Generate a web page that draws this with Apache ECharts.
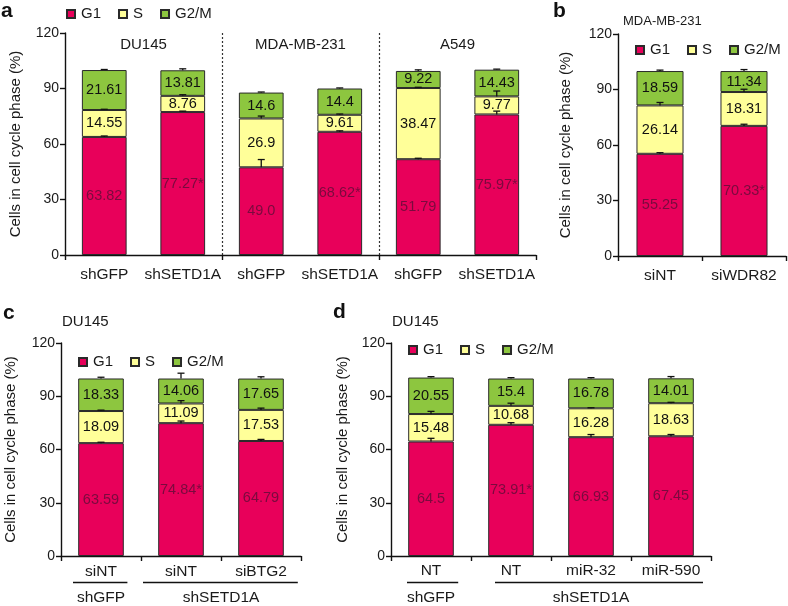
<!DOCTYPE html>
<html><head><meta charset="utf-8">
<script src="https://cdn.jsdelivr.net/npm/echarts@6/dist/echarts.min.js"></script>
<style>html,body{margin:0;padding:0;background:#fff}#c{width:788px;height:606px}</style>
</head><body><div id="c"></div>
<script>
const phases = ['G1', 'S', 'G2/M'];
const colors = ['#E8005A', '#FFFF99', '#8DC63F'];
const yName = 'Cells in cell cycle phase (%)';

// Panel a
const aCats = ['shGFP', 'shSETD1A', 'shGFP', 'shSETD1A', 'shGFP', 'shSETD1A'];
const aGroups = ['DU145', 'MDA-MB-231', 'A549'];
const aG1 = [63.82, 77.27, 47.4, 66.6, 51.79, 75.97];
const aS = [14.55, 8.76, 26.4, 9.2, 38.47, 9.77];
const aG2 = [21.61, 13.81, 14.0, 14.2, 9.22, 14.43];
const aG1Text = ['63.82', '77.27*', '49.0', '68.62*', '51.79', '75.97*'];
const aSText = ['14.55', '8.76', '26.9', '9.61', '38.47', '9.77'];
const aG2Text = ['21.61', '13.81', '14.6', '14.4', '9.22', '14.43'];
const aG1Err = [0.5, 0.5, 4.2, 0.5, 0.5, 1.8];
const aSErr = [0.4, 0.6, 1.3, 0.4, 0.4, 2.9];
const aG2Err = [0.3, 0.8, 0.3, 0.3, 0.6, 0.3];

// Panel b
const bCats = ['siNT', 'siWDR82'];
const bG1 = [55.25, 70.33];
const bS = [26.14, 18.31];
const bG2 = [18.59, 11.34];
const bG1Text = ['55.25', '70.33*'];
const bSText = ['26.14', '18.31'];
const bG2Text = ['18.59', '11.34'];
const bG1Err = [0.6, 0.9];
const bSErr = [1.6, 1.5];
const bG2Err = [0.5, 0.8];

// Panel c
const cCats = ['siNT', 'siNT', 'siBTG2'];
const cGroups = ['shGFP', 'shSETD1A'];
const cG1 = [63.59, 74.84, 64.79];
const cS = [18.09, 11.09, 17.53];
const cG2 = [18.33, 14.06, 17.65];
const cG1Text = ['63.59', '74.84*', '64.79'];
const cSText = ['18.09', '11.09', '17.53'];
const cG2Text = ['18.33', '14.06', '17.65'];
const cG1Err = [0.5, 1.2, 0.9];
const cSErr = [0.5, 1.6, 1.0];
const cG2Err = [0.7, 3.0, 1.0];

// Panel d
const dCats = ['NT', 'NT', 'miR-32', 'miR-590'];
const dGroups = ['shGFP', 'shSETD1A'];
const dG1 = [64.5, 73.91, 66.93, 67.45];
const dS = [15.48, 10.68, 16.28, 18.63];
const dG2 = [20.55, 15.4, 16.78, 14.01];
const dG1Text = ['64.5', '73.91*', '66.93', '67.45'];
const dSText = ['15.48', '10.68', '16.28', '18.63'];
const dG2Text = ['20.55', '15.4', '16.78', '14.01'];
const dG1Err = [1.8, 1.2, 1.5, 1.0];
const dSErr = [1.5, 1.5, 0.3, 0.5];
const dG2Err = [0.5, 0.5, 0.5, 1.0];

const panels = [
  { cats: aCats, vals: [aG1, aS, aG2], texts: [aG1Text, aSText, aG2Text], errs: [aG1Err, aSErr, aG2Err],
    grid: { left: 61, top: 33, width: 475, height: 222 }, barWidth: '57%', labelMargin: 12, tickEvery: 2, nameGap: 42 },
  { cats: bCats, vals: [bG1, bS, bG2], texts: [bG1Text, bSText, bG2Text], errs: [bG1Err, bSErr, bG2Err],
    grid: { left: 618, top: 34, width: 168, height: 222 }, barWidth: '56%', labelMargin: 12, tickEvery: 1, nameGap: 45 },
  { cats: cCats, vals: [cG1, cS, cG2], texts: [cG1Text, cSText, cG2Text], errs: [cG1Err, cSErr, cG2Err],
    grid: { left: 61, top: 343, width: 240, height: 213 }, barWidth: '57%', labelMargin: 8, tickEvery: 1, nameGap: 43 },
  { cats: dCats, vals: [dG1, dS, dG2], texts: [dG1Text, dSText, dG2Text], errs: [dG1Err, dSErr, dG2Err],
    grid: { left: 391, top: 343, width: 320, height: 213 }, barWidth: '57%', labelMargin: 7, tickEvery: 1, nameGap: 41 }
];

const FONT = '"Liberation Sans", Arial, Helvetica, sans-serif';
const grids = [], xAxes = [], yAxes = [], series = [];

panels.forEach((p, i) => {
  grids.push(Object.assign({ containLabel: false }, p.grid));
  xAxes.push({
    type: 'category', gridIndex: i, data: p.cats,
    axisLine: { lineStyle: { color: '#111', width: 1.4 } },
    axisTick: { show: true, length: 5, interval: (idx) => idx % p.tickEvery === 0, lineStyle: { color: '#111', width: 1.4 } },
    axisLabel: { interval: 0, fontSize: 15.5, color: '#1a1a1a', fontFamily: FONT, margin: p.labelMargin },
    splitLine: i === 0 ? {
      show: true, showMinLine: false, showMaxLine: false,
      interval: (idx) => idx % 2 === 0,
      lineStyle: { color: '#333', type: [2, 2], width: 1.2 }
    } : { show: false }
  });
  yAxes.push({
    type: 'value', gridIndex: i, min: 0, max: 120, interval: 30,
    name: yName, nameLocation: 'middle', nameGap: p.nameGap,
    nameTextStyle: { fontSize: 15, color: '#1a1a1a', fontFamily: FONT },
    axisLine: { show: true, lineStyle: { color: '#111', width: 1.4 } },
    axisTick: { show: true, length: 5, lineStyle: { color: '#111', width: 1.4 } },
    axisLabel: { fontSize: 14, color: '#1a1a1a', fontFamily: FONT, margin: 6 },
    splitLine: { show: false }
  });
  phases.forEach((ph, k) => {
    series.push({
      type: 'bar', name: ph, stack: 'p' + i, xAxisIndex: i, yAxisIndex: i,
      data: p.vals[k], barWidth: p.barWidth,
      itemStyle: { color: colors[k], borderColor: '#2a2a2a', borderWidth: 1 },
      label: {
        show: true, position: 'inside', fontSize: 14.5, fontFamily: FONT,
        color: k === 0 ? '#7a0a3e' : '#111',
        formatter: (prm) => p.texts[k][prm.dataIndex]
      },
      emphasis: { disabled: true }
    });
  });
  const errData = [];
  p.cats.forEach((c, j) => {
    let cum = 0;
    for (let k = 0; k < 3; k++) {
      cum += p.vals[k][j];
      errData.push([j, cum, p.errs[k][j]]);
    }
  });
  series.push({
    type: 'custom', name: 'err' + i, xAxisIndex: i, yAxisIndex: i, z: 5,
    data: errData, silent: true,
    renderItem: (params, api) => {
      const x = api.value(0), top = api.value(1), e = api.value(2);
      const p0 = api.coord([x, top]), p1 = api.coord([x, top + e]);
      const w = 3.5;
      return { type: 'group', children: [
        { type: 'line', shape: { x1: p0[0], y1: p0[1], x2: p1[0], y2: p1[1] }, style: { stroke: '#111', lineWidth: 1.3 } },
        { type: 'line', shape: { x1: p1[0] - w, y1: p1[1], x2: p1[0] + w, y2: p1[1] }, style: { stroke: '#111', lineWidth: 1.3 } }
      ] };
    }
  });
});

const legendBase = {
  data: phases, icon: 'rect', itemWidth: 8, itemHeight: 8, itemGap: 17,
  textStyle: { fontSize: 15, color: '#1a1a1a', fontFamily: FONT, padding: [0, 0, 0, 1] },
  selectedMode: false
};
const legends = [
  Object.assign({ left: 61, top: 1.5 }, legendBase),
  Object.assign({ left: 630, top: 37.5 }, legendBase),
  Object.assign({ left: 73, top: 349.5 }, legendBase),
  Object.assign({ left: 403, top: 337.5 }, legendBase)
];

const letterStyle = { fontSize: 21, fontWeight: 'bold', color: '#111', fontFamily: FONT };
const subStyle = { fontSize: 15, fontWeight: 'normal', color: '#1a1a1a', fontFamily: FONT };
const titles = [
  { text: 'a', left: 1, top: 1, textStyle: letterStyle, padding: 0 },
  { text: 'b', left: 553, top: 1, textStyle: letterStyle, padding: 0 },
  { text: 'c', left: 3, top: 303, textStyle: letterStyle, padding: 0 },
  { text: 'd', left: 333, top: 302, textStyle: letterStyle, padding: 0 },
  { text: 'MDA-MB-231', left: 623, top: 15, textStyle: Object.assign({}, subStyle, { fontSize: 13 }), padding: 0 },
  { text: 'DU145', left: 62, top: 314, textStyle: subStyle, padding: 0 },
  { text: 'DU145', left: 392, top: 314, textStyle: subStyle, padding: 0 }
];

const chart = echarts.init(document.getElementById('c'), null, { renderer: 'canvas' });
chart.setOption({
  animation: false, backgroundColor: '#fff',
  title: titles, legend: legends, grid: grids, xAxis: xAxes, yAxis: yAxes, series: series
});

// Decorations positioned through the axes
const px = (ax, idx) => chart.convertToPixel({ xAxisIndex: ax }, idx);
const graphics = [];
// Cell-line headers in panel a
[[0, 1], [2, 3], [4, 5]].forEach((g, gi) => {
  const cx = (px(0, g[0]) + px(0, g[1])) / 2;
  graphics.push({ type: 'text', x: cx, y: 45,
    style: { text: aGroups[gi], font: '15px ' + FONT, fill: '#1a1a1a', textAlign: 'center', textVerticalAlign: 'middle' } });
});
// Group rows under c and d
const groupRows = [
  { ax: 2, names: cGroups, ranges: [[0, 0], [1, 2]], pads: [[0.35, 0.33], [0.475, 0.46]] },
  { ax: 3, names: dGroups, ranges: [[0, 0], [1, 3]], pads: [[0.3, 0.34], [0.2, 0.4]] }
];
groupRows.forEach((gr) => {
  const band = px(gr.ax, 1) - px(gr.ax, 0);
  gr.ranges.forEach((r, ri) => {
    const x0 = px(gr.ax, r[0]) - band * gr.pads[ri][0];
    const x1 = px(gr.ax, r[1]) + band * gr.pads[ri][1];
    graphics.push({ type: 'line', shape: { x1: x0, y1: 582.5, x2: x1, y2: 582.5 }, style: { stroke: '#111', lineWidth: 1.3 } });
    graphics.push({ type: 'text', x: (px(gr.ax, r[0]) + px(gr.ax, r[1])) / 2, y: 597.5,
      style: { text: gr.names[ri], font: '15.5px ' + FONT, fill: '#1a1a1a', textAlign: 'center', textVerticalAlign: 'middle' } });
  });
});
chart.setOption({ graphic: graphics });
</script>
</body></html>
